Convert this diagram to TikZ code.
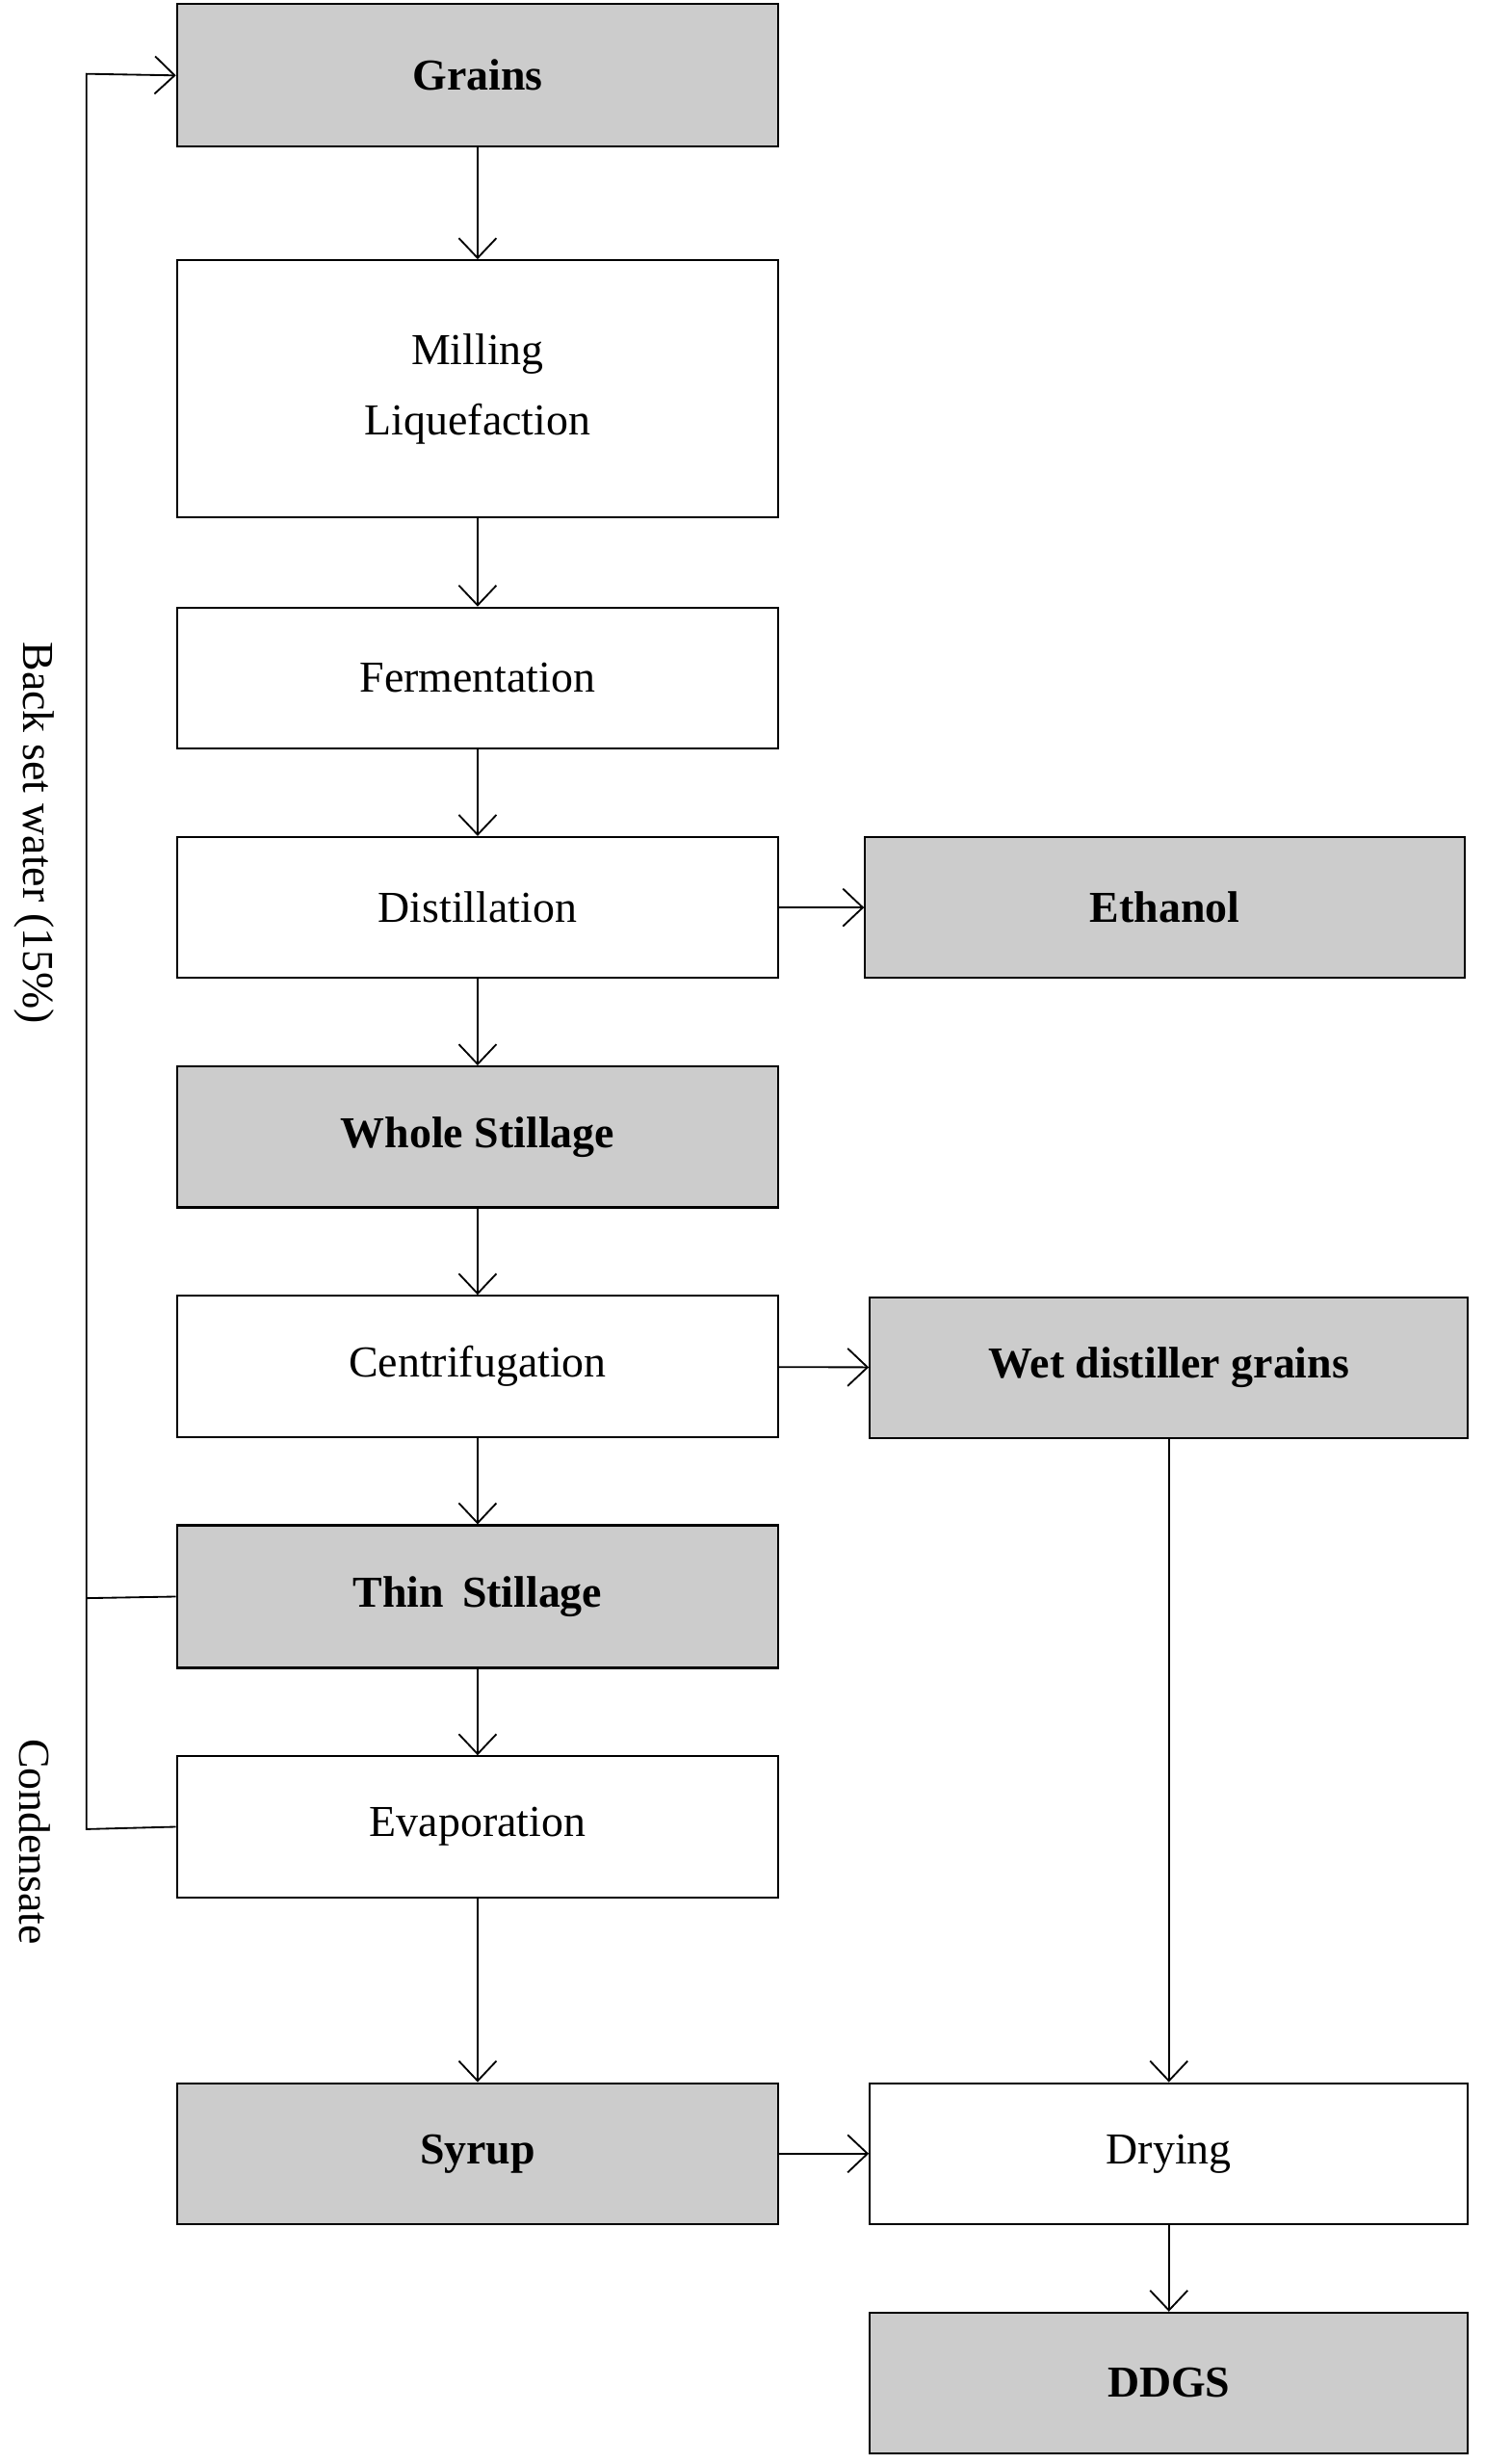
\documentclass[tikz,border=0pt]{standalone}
\usepackage{fontspec}
\setmainfont{Liberation Serif}
\usetikzlibrary{arrows.meta}
\begin{document}
\begin{tikzpicture}[x=0.05cm,y=-0.05cm,
  box/.style={draw,line width=1.8pt,inner sep=0pt,font=\fontsize{40}{50}\selectfont,align=center},
  g/.style={box,fill=gray!40,font=\fontsize{40}{50}\selectfont\bfseries},
  arr/.style={line width=1.6pt,-{Straight Barb[length=18pt,width=34pt,line width=1.6pt]}},
  ln/.style={line width=1.6pt}]
\useasboundingbox (0,0) rectangle (945,1568);
\def\bx#1#2#3#4#5#6#7{\node[#2,minimum width=#5*0.05cm-1.8pt,minimum height=#6*0.05cm-1.8pt] (#1) at ({(#3+#3+#5)/2},{(#4+#4+#6)/2}) {#7};}
\bx{gr}{g}{112}{2}{384}{92}{Grains}
\bx{ml}{box}{112}{165}{384}{165}{Milling\\[14pt]Liquefaction}
\bx{fe}{box}{112}{386}{384}{91}{Fermentation}
\bx{di}{box}{112}{532}{384}{91}{Distillation}
\bx{et}{g}{550}{532}{383}{91}{Ethanol}
\bx{ws}{g}{112}{678}{384}{91}{Whole Stillage}
\bx{ce}{box}{112}{824}{384}{91}{Centrifugation}
\bx{wd}{g}{553}{825}{382}{91}{Wet distiller grains}
\bx{ts}{g}{112}{970}{384}{92}{Thin\, Stillage}
\bx{ev}{box}{112}{1117}{384}{91}{Evaporation}
\bx{sy}{g}{112}{1325}{384}{91}{Syrup}
\bx{dr}{box}{553}{1325}{382}{91}{Drying}
\bx{dd}{g}{553}{1471}{382}{91}{DDGS}
\draw[arr] (gr) -- (ml);
\draw[arr] (ml) -- (fe);
\draw[arr] (fe) -- (di);
\draw[arr] (di) -- (ws);
\draw[arr] (di) -- (et);
\draw[arr] (ws) -- (ce);
\draw[arr] (ce) -- (wd);
\draw[arr] (ce) -- (ts);
\draw[arr] (ts) -- (ev);
\draw[arr] (ev) -- (sy);
\draw[arr] (sy) -- (dr);
\draw[arr] (wd) -- (dr);
\draw[arr] (dr) -- (dd);
\coordinate (c1) at (55,1017);
\coordinate (c2) at (55,1164);
\coordinate (c0) at (55,47);
\draw[ln] (ts.west) -- (c1);
\draw[arr] (ev.west) -- (c2) -- (c0) -- (gr.west);
\node[rotate=-90,font=\fontsize{40}{50}\selectfont] (bs) at (22,530) {Back set water (15\%)};
\node[rotate=-90,font=\fontsize{40}{50}\selectfont] (cd) at (22,1172) {Condensate};
\end{tikzpicture}
\end{document}
